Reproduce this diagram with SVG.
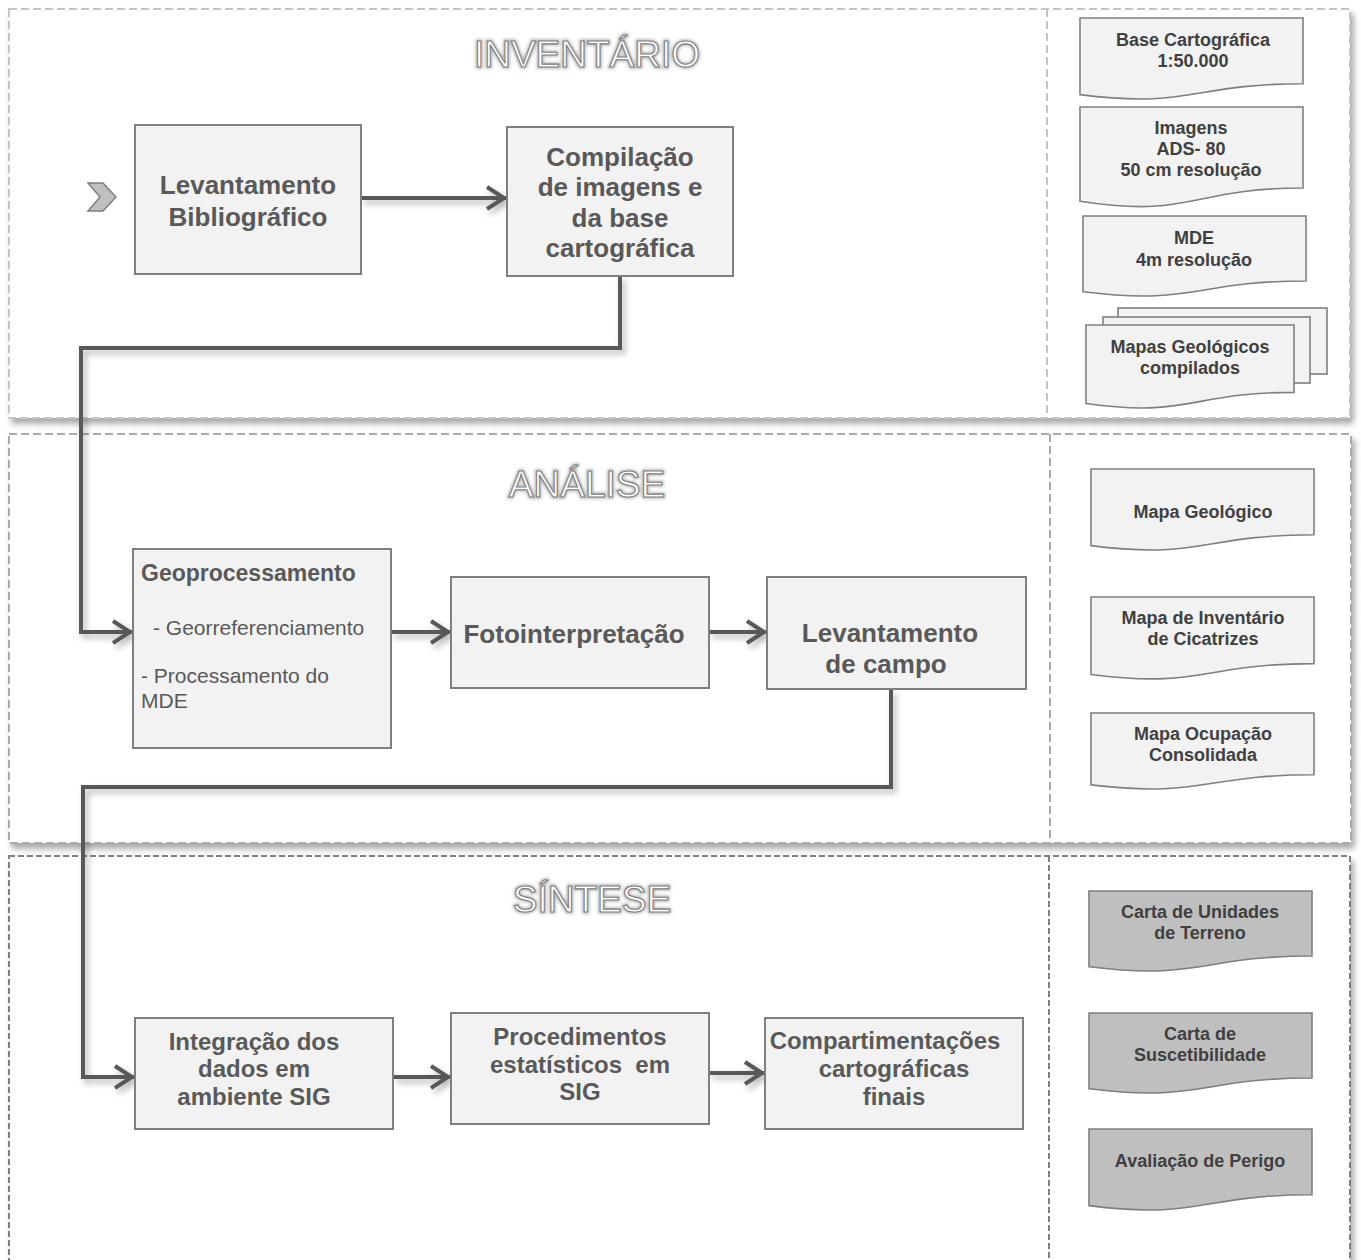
<svg xmlns="http://www.w3.org/2000/svg" width="1361" height="1260" viewBox="0 0 1361 1260">
<style>
.panel{fill:#ffffff;stroke-width:2;filter:url(#pshadow)}
.div{fill:none;stroke-width:2}
.box{fill:#f2f2f2;stroke:#7f7f7f;stroke-width:2}
.doc{fill:#f2f2f2;stroke:#7f7f7f;stroke-width:1.6}
.docd{fill:#bfbfbf;stroke:#7f7f7f;stroke-width:1.6}
.t{font-family:"Liberation Sans",Arial,sans-serif;font-weight:bold;fill:#595959;text-anchor:middle}
.t26{font-size:26px}
.t24{font-size:24px}
.s{font-family:"Liberation Sans",Arial,sans-serif;fill:#595959;font-size:21px}
.d{font-family:"Liberation Sans",Arial,sans-serif;font-weight:bold;fill:#404040;font-size:18px;text-anchor:middle}
.ttl{font-family:"Liberation Sans",Arial,sans-serif;font-size:37px;text-anchor:middle}
.glow{fill:none;stroke:#b8b8b8;stroke-width:3.5;filter:url(#blur)}
.out{fill:#ffffff;stroke:#808080;stroke-width:1.1}
.c{fill:none;stroke:#595959;stroke-width:4;stroke-linejoin:miter}
</style>
<defs>
<filter id="pshadow" x="-5%" y="-5%" width="112%" height="115%">
<feDropShadow dx="3" dy="5" stdDeviation="3" flood-color="#000" flood-opacity="0.35"/>
</filter>
<filter id="lshadow" x="-10%" y="-10%" width="120%" height="120%">
<feDropShadow dx="3" dy="4" stdDeviation="3" flood-color="#000" flood-opacity="0.3"/>
</filter>
<filter id="blur"><feGaussianBlur stdDeviation="1.5"/></filter>
<marker id="arr" markerUnits="userSpaceOnUse" markerWidth="28" markerHeight="28" viewBox="0 0 28 28" refX="22" refY="14" orient="auto">
<path d="M3,3 L20,14 L3,25" fill="none" stroke="#595959" stroke-width="4"/>
</marker>
</defs>

<g id="panel-inventario">
<rect class="panel" x="9" y="9" width="1341" height="409" stroke="#c4c4c4" stroke-dasharray="8 4"/>
<line class="div" x1="1047" y1="9" x2="1047" y2="418" stroke="#c4c4c4" stroke-dasharray="8 4"/>
<text class="ttl glow" x="587" y="67">INVENTÁRIO</text>
<text class="ttl out" x="587" y="67">INVENTÁRIO</text>
</g>
<g id="panel-analise">
<rect class="panel" x="9" y="434" width="1342" height="409" stroke="#aaaaaa" stroke-dasharray="8 4"/>
<line class="div" x1="1050" y1="434" x2="1050" y2="843" stroke="#aaaaaa" stroke-dasharray="8 4"/>
<text class="ttl glow" x="587" y="497">ANÁLISE</text>
<text class="ttl out" x="587" y="497">ANÁLISE</text>
</g>
<g id="panel-sintese">
<rect class="panel" x="9" y="856" width="1341" height="420" stroke="#808080" stroke-dasharray="6 3"/>
<line class="div" x1="1049" y1="856" x2="1049" y2="1260" stroke="#808080" stroke-dasharray="6 3"/>
<text class="ttl glow" x="592" y="912">SÍNTESE</text>
<text class="ttl out" x="592" y="912">SÍNTESE</text>
</g>

<g id="start-chevron">
<polygon points="88,183 103,183 116,197 103,211 88,211 100,197" fill="#bfbfbf" stroke="#7f7f7f" stroke-width="1.5"/>
</g>

<g id="connectors" filter="url(#lshadow)">
<line class="c" x1="361" y1="198" x2="506" y2="198" marker-end="url(#arr)"/>
<polyline class="c" points="620,276 620,348 81,348 81,632 132,632" marker-end="url(#arr)"/>
<line class="c" x1="391" y1="632" x2="450" y2="632" marker-end="url(#arr)"/>
<line class="c" x1="709" y1="632" x2="766" y2="632" marker-end="url(#arr)"/>
<polyline class="c" points="891,689 891,787 83,787 83,1077 134,1077" marker-end="url(#arr)"/>
<line class="c" x1="393" y1="1077" x2="450" y2="1077" marker-end="url(#arr)"/>
<line class="c" x1="709" y1="1073" x2="764" y2="1073" marker-end="url(#arr)"/>
</g>

<g id="node-levantamento-bibliografico">
<rect class="box" x="135" y="125" width="226" height="149"/>
<text class="t t26" x="248" y="194">Levantamento</text>
<text class="t t26" x="248" y="226">Bibliográfico</text>
</g>
<g id="node-compilacao">
<rect class="box" x="507" y="127" width="226" height="149"/>
<text class="t t26" x="620" y="166">Compilação</text>
<text class="t t26" x="620" y="196">de imagens e</text>
<text class="t t26" x="620" y="227">da base</text>
<text class="t t26" x="620" y="257">cartográfica</text>
</g>
<g id="node-geoprocessamento">
<rect class="box" x="133" y="549" width="258" height="199"/>
<text class="t" x="141" y="581" style="font-size:23px;text-anchor:start">Geoprocessamento</text>
<text class="s" x="153" y="635">- Georreferenciamento</text>
<text class="s" x="141" y="683">- Processamento do</text>
<text class="s" x="141" y="708">MDE</text>
</g>
<g id="node-fotointerpretacao">
<rect class="box" x="451" y="577" width="258" height="111"/>
<text class="t t26" x="574" y="643">Fotointerpretação</text>
</g>
<g id="node-levantamento-campo">
<rect class="box" x="767" y="577" width="259" height="112"/>
<text class="t t26" x="890" y="642">Levantamento</text>
<text class="t t26" x="886" y="673">de campo</text>
</g>
<g id="node-integracao">
<rect class="box" x="135" y="1018" width="258" height="111"/>
<text class="t t24" x="254" y="1050">Integração dos</text>
<text class="t t24" x="254" y="1077">dados em</text>
<text class="t t24" x="254" y="1105">ambiente SIG</text>
</g>
<g id="node-procedimentos">
<rect class="box" x="451" y="1013" width="258" height="111"/>
<text class="t t24" x="580" y="1045">Procedimentos</text>
<text class="t t24" x="580" y="1073" xml:space="preserve">estatísticos  em</text>
<text class="t t24" x="580" y="1100">SIG</text>
</g>
<g id="node-compartimentacoes">
<rect class="box" x="765" y="1018" width="258" height="111"/>
<text class="t t24" x="885" y="1049">Compartimentações</text>
<text class="t t24" x="894" y="1077">cartográficas</text>
<text class="t t24" x="894" y="1105">finais</text>
</g>

<g id="doc-base-cartografica">
<path class="doc" d="M1080,18 H1303 V83.8 C1191.5,83.8 1191.5,108.8 1080,94.6 Z"/>
<text class="d" x="1193" y="46">Base Cartográfica</text>
<text class="d" x="1193" y="67">1:50.000</text>
</g>
<g id="doc-imagens">
<path class="doc" d="M1080,107 H1303 V188 C1191.5,188 1191.5,218.8 1080,201.3 Z"/>
<text class="d" x="1191" y="134">Imagens</text>
<text class="d" x="1191" y="155">ADS- 80</text>
<text class="d" x="1191" y="176">50 cm resolução</text>
</g>
<g id="doc-mde">
<path class="doc" d="M1083,216 H1306 V281 C1194.5,281 1194.5,305.7 1083,291.7 Z"/>
<text class="d" x="1194" y="244">MDE</text>
<text class="d" x="1194" y="266">4m resolução</text>
</g>
<g id="doc-mapas-geologicos">
<rect class="doc" x="1118" y="308" width="209" height="66"/>
<rect class="doc" x="1103" y="317" width="207" height="66"/>
<path class="doc" d="M1086,325 H1294 V392.4 C1190,392.4 1190,418 1086,403.5 Z"/>
<text class="d" x="1190" y="353">Mapas Geológicos</text>
<text class="d" x="1190" y="374">compilados</text>
</g>
<g id="doc-mapa-geologico">
<path class="doc" d="M1091,469 H1314 V534.8 C1202.5,534.8 1202.5,559.8 1091,545.6 Z"/>
<text class="d" x="1203" y="518">Mapa Geológico</text>
</g>
<g id="doc-mapa-inventario">
<path class="doc" d="M1091,597 H1314 V663.6 C1202.5,663.6 1202.5,688.9 1091,674.5 Z"/>
<text class="d" x="1203" y="624">Mapa de Inventário</text>
<text class="d" x="1203" y="645">de Cicatrizes</text>
</g>
<g id="doc-mapa-ocupacao">
<path class="doc" d="M1091,713 H1314 V774.8 C1202.5,774.8 1202.5,798.2 1091,784.9 Z"/>
<text class="d" x="1203" y="740">Mapa Ocupação</text>
<text class="d" x="1203" y="761">Consolidada</text>
</g>
<g id="doc-carta-unidades">
<path class="docd" d="M1089,891 H1312 V956 C1200.5,956 1200.5,980.7 1089,966.7 Z"/>
<text class="d" x="1200" y="918">Carta de Unidades</text>
<text class="d" x="1200" y="939">de Terreno</text>
</g>
<g id="doc-carta-suscetibilidade">
<path class="docd" d="M1089,1013 H1312 V1078 C1200.5,1078 1200.5,1102.7 1089,1088.7 Z"/>
<text class="d" x="1200" y="1040">Carta de</text>
<text class="d" x="1200" y="1061">Suscetibilidade</text>
</g>
<g id="doc-avaliacao-perigo">
<path class="docd" d="M1089,1129 H1312 V1194.8 C1200.5,1194.8 1200.5,1219.8 1089,1205.6 Z"/>
<text class="d" x="1200" y="1167">Avaliação de Perigo</text>
</g>
</svg>
